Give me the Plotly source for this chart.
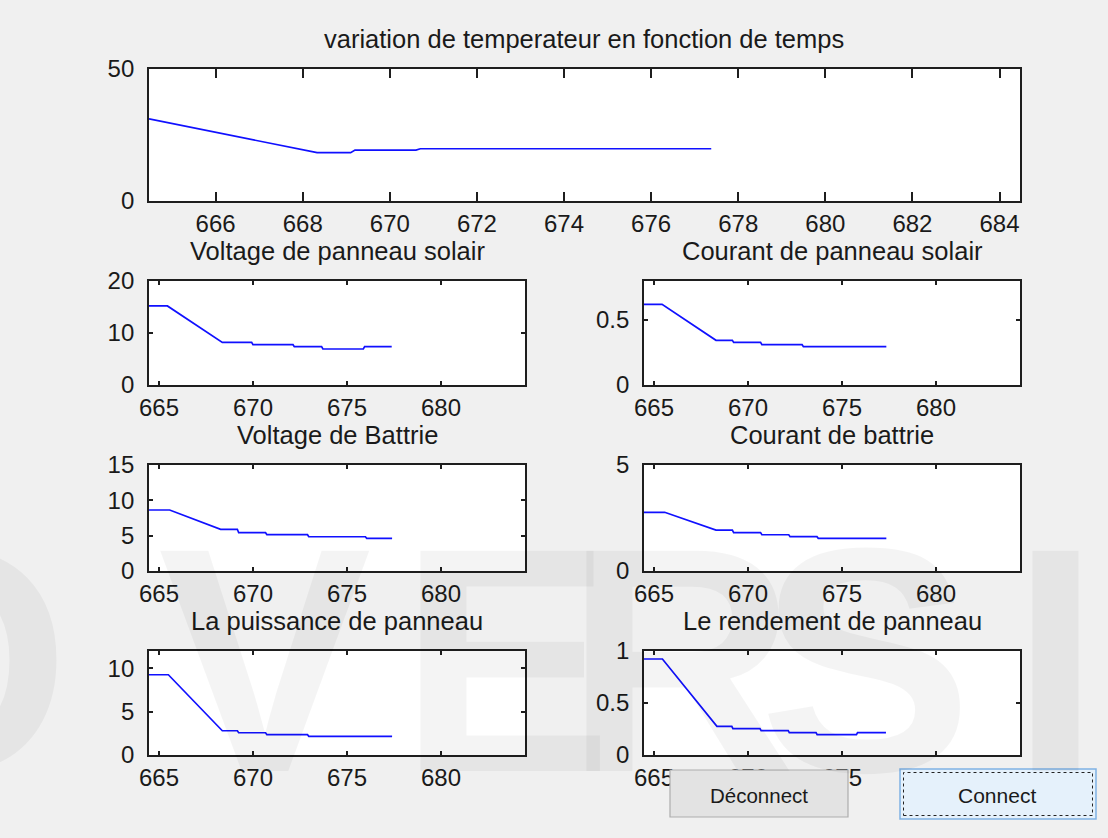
import plotly.graph_objects as go

# ---------------- data ----------------
temp_t = [664.47, 668.33, 669.10, 669.20, 670.60, 670.70, 677.38]
temp_v = [31.1, 18.3, 18.3, 19.3, 19.3, 19.8, 19.8]

vpv_t = [664.47, 665.45, 668.37, 669.93, 670.00, 672.13, 672.20, 673.65, 673.72, 675.87, 675.94, 677.38]
vpv_v = [15.2, 15.2, 8.2, 8.2, 7.75, 7.75, 7.37, 7.37, 6.92, 6.92, 7.37, 7.37]

ipv_t = [664.47, 665.43, 668.30, 669.17, 669.24, 670.67, 670.74, 672.88, 672.95, 677.36]
ipv_v = [0.62, 0.62, 0.344, 0.344, 0.328, 0.328, 0.31, 0.31, 0.295, 0.295]

vbat_t = [664.47, 665.57, 668.28, 669.17, 669.24, 670.67, 670.74, 672.90, 672.97, 675.98, 676.05, 677.40]
vbat_v = [8.63, 8.63, 5.9, 5.9, 5.42, 5.42, 5.14, 5.14, 4.85, 4.85, 4.62, 4.62]

ibat_t = [664.47, 665.57, 668.30, 669.17, 669.24, 670.67, 670.74, 672.17, 672.24, 673.67, 673.74, 677.36]
ibat_v = [2.77, 2.77, 1.93, 1.93, 1.81, 1.81, 1.71, 1.71, 1.62, 1.62, 1.54, 1.54]

pui_t = [664.47, 665.50, 668.37, 669.17, 669.24, 670.67, 670.74, 672.90, 672.97, 677.40]
pui_v = [9.26, 9.26, 2.8, 2.8, 2.57, 2.57, 2.34, 2.34, 2.15, 2.15]

rend_t = [664.47, 665.45, 668.35, 669.14, 669.20, 670.64, 670.70, 672.14, 672.20, 673.62, 673.68, 675.77, 675.83, 677.34]
rend_v = [0.923, 0.923, 0.276, 0.276, 0.253, 0.253, 0.234, 0.234, 0.215, 0.215, 0.195, 0.195, 0.215, 0.215]

titles = ["variation de temperateur en fonction de temps",
          "Voltage de panneau solair", "Courant de panneau solair",
          "Voltage de Battrie", "Courant de battrie",
          "La puissance de panneau", "Le rendement de panneau"]

x_range = [664.47, 684.47]
top_xticks = [666, 668, 670, 672, 674, 676, 678, 680, 682, 684]
sub_xticks = [665, 670, 675, 680]

y_ranges = [[0, 50], [0, 20], [0, 0.8], [0, 15], [0, 5], [0, 12], [0, 1]]
y_ticks = [[0, 50], [0, 10, 20], [0, 0.5], [0, 5, 10, 15], [0, 5], [0, 5, 10], [0, 0.5, 1]]

series = [(temp_t, temp_v), (vpv_t, vpv_v), (ipv_t, ipv_v), (vbat_t, vbat_v),
          (ibat_t, ibat_v), (pui_t, pui_v), (rend_t, rend_v)]

# ---------------- layout geometry (pixels) ----------------
W, H = 1108, 838
FONT = "Liberation Sans, Arial, sans-serif"
TXT = "#1a1a1a"

boxes = [
    (149, 1020, 69, 201),
    (149, 525, 281, 385), (644, 1020, 281, 385),
    (149, 525, 465, 571), (644, 1020, 465, 571),
    (149, 525, 651, 755), (644, 1020, 651, 755),
]

fig = go.Figure()
layout = dict(
    width=W, height=H, autosize=False, margin=dict(l=0, r=0, t=0, b=0, pad=0, autoexpand=False),
    paper_bgcolor="#f0f0f0", plot_bgcolor="white",
    showlegend=False, font=dict(family=FONT, color=TXT),
)

annotations = []
for i, ((t, v), (x0, x1, y0, y1)) in enumerate(zip(series, boxes)):
    n = "" if i == 0 else str(i + 1)
    fig.add_trace(go.Scatter(x=t, y=v, mode="lines",
                             line=dict(color="#1010ff", width=1.7),
                             xaxis="x" + n, yaxis="y" + n, hoverinfo="skip"))
    tl = 9 if i == 0 else 4
    common = dict(showline=True, linecolor="#1e1e1e", linewidth=1.8, mirror="ticks",
                  ticks="inside", ticklen=tl, tickcolor="#1e1e1e", tickwidth=1.5,
                  showgrid=False, zeroline=False, fixedrange=True, automargin=False,
                  tickfont=dict(family=FONT, size=24, color=TXT))
    layout["xaxis" + n] = dict(common, domain=[x0 / W, x1 / W], anchor="y" + n,
                               range=x_range,
                               tickvals=top_xticks if i == 0 else sub_xticks,
                               ticklabelstandoff=0)
    layout["yaxis" + n] = dict(common, domain=[1 - y1 / H, 1 - y0 / H], anchor="x" + n,
                               range=y_ranges[i], tickvals=y_ticks[i],
                               ticklabelstandoff=8)
    annotations.append(dict(text=titles[i], xref="paper", yref="paper",
                            x=(x0 + x1) / 2 / W, y=1 - (y0 - 14) / H,
                            xanchor="center", yanchor="bottom", showarrow=False,
                            font=dict(family=FONT, size=25.5, color=TXT)))

# watermark letters (faint, drawn over everything)
wm = [("O", -55), ("V", 265), ("E", 505), ("R", 680), ("S", 865), ("I", 1055)]
for ch, cx in wm:
    annotations.append(dict(text="<b>" + ch + "</b>", xref="paper", yref="paper", x=cx / W, y=1 - 660 / H,
                            xanchor="center", yanchor="middle", showarrow=False,
                            font=dict(family=FONT, size=320, color="rgba(0,0,0,0.045)")))

# buttons
shapes = [
    dict(type="rect", xref="paper", yref="paper", x0=670 / W, x1=848 / W,
         y0=1 - 817 / H, y1=1 - 770 / H, fillcolor="#e3e3e3",
         line=dict(color="#adadad", width=1.2), layer="above"),
    dict(type="rect", xref="paper", yref="paper", x0=900 / W, x1=1096 / W,
         y0=1 - 819 / H, y1=1 - 769 / H, fillcolor="#e5f1fb",
         line=dict(color="#7fb1e3", width=1.5), layer="above"),
    dict(type="rect", xref="paper", yref="paper", x0=903.5 / W, x1=1092.5 / W,
         y0=1 - 815.5 / H, y1=1 - 772.5 / H, fillcolor="rgba(0,0,0,0)",
         line=dict(color="#222222", width=1, dash="dot"), layer="above"),
]
annotations.append(dict(text="Déconnect", xref="paper", yref="paper", x=759 / W, y=1 - 795 / H,
                        xanchor="center", yanchor="middle", showarrow=False,
                        font=dict(family=FONT, size=20.5, color=TXT)))
annotations.append(dict(text="Connect", xref="paper", yref="paper", x=997 / W, y=1 - 795 / H,
                        xanchor="center", yanchor="middle", showarrow=False,
                        font=dict(family=FONT, size=21, color=TXT)))

layout["annotations"] = annotations
layout["shapes"] = shapes
fig.update_layout(**layout)

fig.write_html("out.html", config={"displayModeBar": False, "responsive": False},
               post_script="document.body.style.margin='0';document.body.style.overflow='hidden';")
